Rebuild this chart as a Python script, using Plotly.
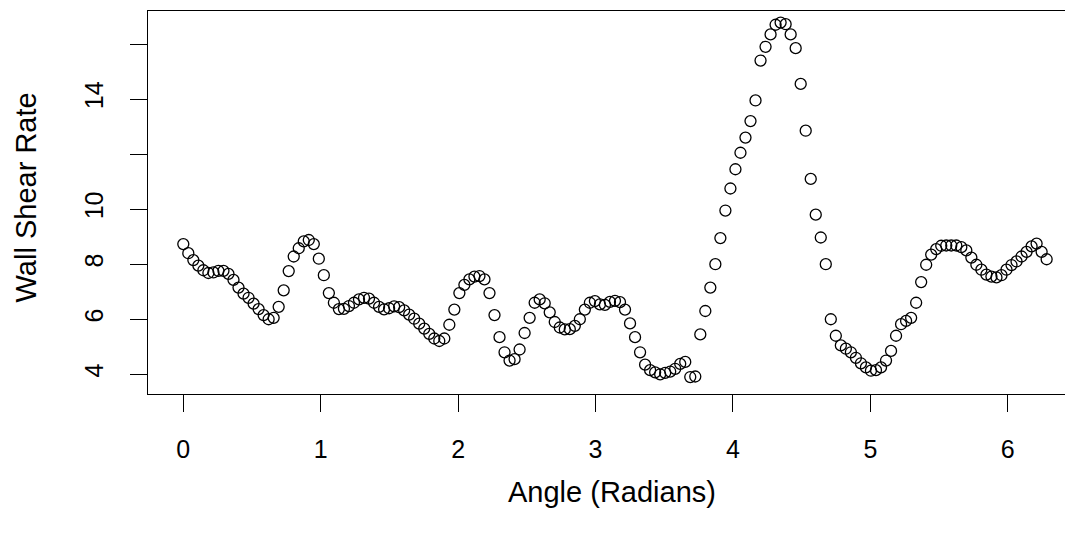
import numpy as np
import plotly.graph_objects as go

# Wall shear rate sampled around the vessel circumference (angle grid 0..2*pi)
n_points = 173
angle = np.linspace(0, 2 * np.pi, n_points)

wall_shear_rate = [
    8.73, 8.40, 8.15, 7.95, 7.78, 7.68, 7.70, 7.76, 7.76, 7.65,
    7.43, 7.15, 6.93, 6.78, 6.57, 6.37, 6.15, 6.00, 6.05, 6.45,
    7.05, 7.75, 8.28, 8.58, 8.83, 8.88, 8.73, 8.20, 7.60, 6.95,
    6.60, 6.37, 6.38, 6.48, 6.60, 6.72, 6.78, 6.75, 6.60, 6.45,
    6.36, 6.40, 6.47, 6.44, 6.32, 6.17, 6.02, 5.84, 5.66, 5.47,
    5.30, 5.21, 5.30, 5.80, 6.35, 6.95, 7.25, 7.45, 7.55, 7.57,
    7.45, 6.95, 6.15, 5.35, 4.80, 4.50, 4.55, 4.90, 5.50, 6.05,
    6.60, 6.72, 6.58, 6.25, 5.90, 5.70, 5.63, 5.64, 5.76, 6.00,
    6.35, 6.60, 6.66, 6.54, 6.52, 6.63, 6.67, 6.62, 6.35, 5.85,
    5.35, 4.80, 4.35, 4.15, 4.07, 4.00, 4.05, 4.10, 4.20, 4.38,
    4.45, 3.90, 3.92, 5.45, 6.30, 7.15, 8.00, 8.95, 9.95, 10.75,
    11.45, 12.05, 12.60, 13.20, 13.95, 15.40, 15.90, 16.35, 16.70, 16.78,
    16.72, 16.35, 15.85, 14.55, 12.85, 11.10, 9.80, 8.97, 8.00, 6.00,
    5.40, 5.05, 4.93, 4.80, 4.60, 4.40, 4.25, 4.13, 4.15, 4.25,
    4.50, 4.85, 5.40, 5.82, 5.94, 6.05, 6.60, 7.35, 7.98, 8.35,
    8.55, 8.67, 8.68, 8.68, 8.68, 8.62, 8.50, 8.24, 7.98, 7.80,
    7.62, 7.55, 7.52, 7.60, 7.80, 7.97, 8.10, 8.28, 8.45, 8.65,
    8.75, 8.45, 8.18,
]

x_ticks = [0, 1, 2, 3, 4, 5, 6]
x_tick_labels = ["0", "1", "2", "3", "4", "5", "6"]
y_ticks = [4, 6, 8, 10, 12, 14, 16]
y_tick_labels = ["4", "6", "8", "10", "", "14", ""]

FONT = "Liberation Sans, Arial, Helvetica, sans-serif"
FS_TICK = 25
FS_TITLE = 29

fig = go.Figure()
fig.add_trace(go.Scatter(
    x=angle, y=wall_shear_rate, mode="markers",
    marker=dict(symbol="circle-open", size=11, color="black",
                line=dict(color="black", width=1.3)),
    showlegend=False, cliponaxis=False,
))

fig.update_layout(
    width=1065, height=531,
    margin=dict(l=140, r=0, t=3, b=145),
    paper_bgcolor="white", plot_bgcolor="white",
    font=dict(family=FONT, size=FS_TICK, color="black"),
    xaxis=dict(
        range=[-0.2569, 6.475], tickmode="array", tickvals=x_ticks,
        ticktext=x_tick_labels, ticks="outside", ticklen=17, tickwidth=1,
        tickcolor="black", showline=True, linecolor="black", linewidth=1,
        mirror=True, showgrid=False, zeroline=False,
        tickfont=dict(family=FONT, size=FS_TICK, color="black"),
        ticklabelstandoff=16,
    ),
    yaxis=dict(
        range=[3.284, 17.20], tickmode="array", tickvals=y_ticks,
        ticktext=y_tick_labels, ticks="outside", ticklen=17, tickwidth=1,
        tickcolor="black", showline=True, linecolor="black", linewidth=1,
        mirror=False, showgrid=False, zeroline=False, tickangle=-90,
        tickfont=dict(family=FONT, size=FS_TICK, color="black"),
        ticklabelstandoff=17,
    ),
    annotations=[
        dict(text="Angle (Radians)", xref="paper", yref="paper",
             x=0.5016, y=-0.2559, xanchor="center", yanchor="middle",
             showarrow=False,
             font=dict(family=FONT, size=FS_TITLE, color="black")),
        dict(text="Wall Shear Rate", xref="paper", yref="paper",
             x=-0.132, y=0.513, xanchor="center", yanchor="middle",
             textangle=-90, showarrow=False,
             font=dict(family=FONT, size=FS_TITLE, color="black")),
    ],
)

fig.write_html("out.html")
